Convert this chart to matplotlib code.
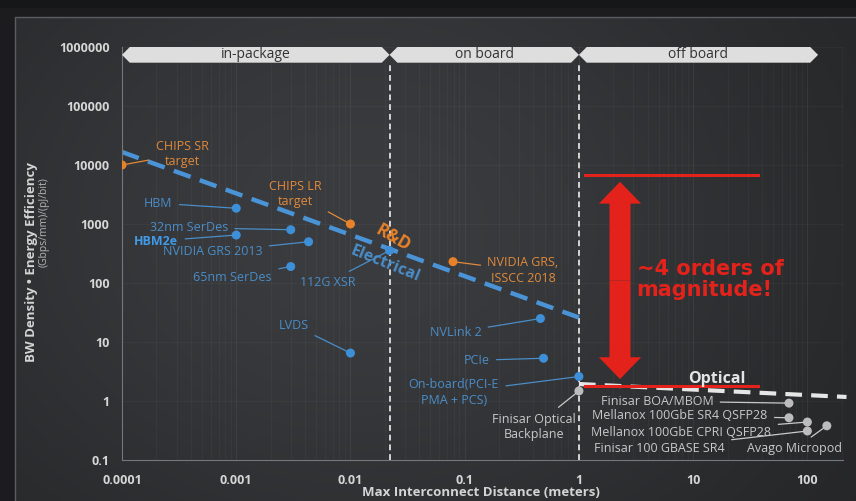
import numpy as np
import matplotlib
matplotlib.use("Agg")
import matplotlib.pyplot as plt
from matplotlib.patches import Polygon, FancyArrowPatch
from matplotlib.transforms import blended_transform_factory

plt.rcParams['font.family'] = ['Open Sans', 'DejaVu Sans']

# Electrical links (blue)
elec_names = ["HBM", "32nm SerDes", "HBM2e", "NVIDIA GRS 2013", "65nm SerDes",
              "112G XSR", "LVDS", "NVLink 2", "PCIe", "On-board(PCI-E\nPMA + PCS)"]
elec_x = [0.001, 0.003, 0.001, 0.0043, 0.003, 0.022, 0.01, 0.46, 0.49, 1.0]
elec_y = [1850, 800, 650, 500, 190, 355, 6.5, 25, 5.3, 2.6]

# Optical links (grey)
opt_names = ["Finisar Optical\nBackplane", "Finisar BOA/MBOM", "Mellanox 100GbE SR4 QSFP28",
             "Mellanox 100GbE CPRI QSFP28", "Finisar 100 GBASE SR4", "Avago Micropod"]
opt_x = [1.0, 69, 69, 100, 100, 148]
opt_y = [1.48, 0.92, 0.52, 0.44, 0.31, 0.38]

# Research targets (orange)
target_names = ["CHIPS SR\ntarget", "CHIPS LR\ntarget", "NVIDIA GRS,\nISSCC 2018"]
target_x = [0.0001, 0.01, 0.079]
target_y = [10000, 1000, 230]

# Trend lines
elec_trend_x = [0.0001, 1.0]
elec_trend_y = [16600, 26]
opt_trend_x = [1.0, 220]
opt_trend_y = [1.94, 1.17]

# Gap between electrical and optical
gap_x = [1.13, 37]
gap_top = 6800
gap_bottom = 1.79

# Distance regions
regions = ["in-package", "on board", "off board"]
region_edges = [0.0001, 0.022, 1.0, 124]

x_ticks = [0.0001, 0.001, 0.01, 0.1, 1, 10, 100]
x_ticklabels = ["0.0001", "0.001", "0.01", "0.1", "1", "10", "100"]
y_ticks = [0.1, 1, 10, 100, 1000, 10000, 100000, 1000000]
y_ticklabels = ["0.1", "1", "10", "100", "1000", "10000", "100000", "1000000"]

# label offsets in pixels (text centre relative to the dot)
elec_offsets = [(-78, 5), (-102, 2), (-80, -6), (-96, -10), (-58, -11),
                (-62, -32), (-57, 28), (-85, -14), (-67, -2), (-125, -16)]
opt_offsets = [(-45, -36), (-132, 2), (-109, 2), (-126, -10), (-148, -17), (-32, -23)]
target_offsets = [(60, 11), (-55, 30), (70, -9)]

BLUE = "#3d8fd8"
BLUE_TXT = "#4a8dc8"
ORANGE = "#e8822a"
GREY = "#c9c9c9"
RED = "#e3221b"

W, H = 856, 501
fig = plt.figure(figsize=(W / 100, H / 100), dpi=100)

# dark slide background with soft light in the middle
bg = fig.add_axes([0, 0, 1, 1], zorder=-1)
yy, xx = np.mgrid[0:H, 0:W]
u, v = xx / W, yy / H
val = 0.13 + 0.10 * np.exp(-(((u - 0.42) / 0.55) ** 2 + ((v - 0.45) / 0.75) ** 2))
val[(xx < 15) | (yy < 17)] = 0.11
val[yy < 8] = 0.09
img = np.dstack([val, val * 1.02, val * 1.07]).clip(0, 1)
bg.imshow(img, extent=[0, W, H, 0], aspect="auto")
bg.plot([15, 15, W], [H, 17, 17], color="#5a5d62", lw=1)
bg.set_xlim(0, W)
bg.set_ylim(H, 0)
bg.axis("off")

ax = fig.add_axes([122 / W, 41 / H, (843 - 122) / W, 413 / H])
ax.set_facecolor("none")
ax.set_xscale("log")
ax.set_yscale("log")
ax.set_xlim(0.0001, 205)
ax.set_ylim(0.1, 1000000)

ax.set_xticks(x_ticks)
ax.set_xticklabels(x_ticklabels)
ax.set_yticks(y_ticks)
ax.set_yticklabels(y_ticklabels)
ax.minorticks_off()
ax.tick_params(length=0, colors="#d6d6d6", labelsize=9)
ax.tick_params(axis="y", pad=9)
ax.tick_params(axis="x", pad=10)
for lab in ax.get_xticklabels() + ax.get_yticklabels():
    lab.set_fontweight("bold")
for s in ["top", "right"]:
    ax.spines[s].set_visible(False)
for s in ["left", "bottom"]:
    ax.spines[s].set_color("#74777b")
    ax.spines[s].set_linewidth(0.8)

# faint grid
for dec in range(-4, 3):
    for m in range(1, 10):
        ax.axvline(m * 10.0 ** dec, color="white", alpha=0.03 if m > 1 else 0.06, lw=0.8, zorder=0)
for yt in y_ticks[1:]:
    ax.axhline(yt, color="white", alpha=0.03, lw=0.8, zorder=0)

# region banners
trans = blended_transform_factory(ax.transData, ax.transAxes)
k = 1.17
top, bot, mid = 1.0, 0.962, 0.981
for name, x0, x1 in zip(regions, region_edges[:-1], region_edges[1:]):
    pts = [(x0, mid), (x0 * k, top), (x1 / k, top), (x1, mid), (x1 / k, bot), (x0 * k, bot)]
    ax.add_patch(Polygon(pts, closed=True, transform=trans, facecolor="#dedede",
                         edgecolor="none", clip_on=False, zorder=3))
    ax.text(np.sqrt(x0 * x1), mid, name, transform=trans, ha="center", va="center",
            fontsize=10, color="#333333", zorder=4)

for xb in region_edges[1:3]:
    ax.plot([xb, xb], [0, bot], transform=trans, color="#d5d5d5", lw=1.4,
            linestyle=(0, (3, 2)), zorder=1)

# trend lines
ax.plot(elec_trend_x, elec_trend_y, color="#4a93d6", lw=3.2, linestyle=(0, (4, 2.2)), zorder=2)
ax.plot(opt_trend_x, opt_trend_y, color="#e6e6e6", lw=3.0, linestyle=(0, (4, 2.2)),
        zorder=2, clip_on=False)

# gap marker
ax.plot(gap_x, [gap_top, gap_top], color=RED, lw=2.2, zorder=3)
ax.plot(gap_x, [gap_bottom, gap_bottom], color=RED, lw=2.2, zorder=3)
arrow_x = 2.29
arrow_top, arrow_bot = 5200, 2.35
arrow_mid = np.sqrt(arrow_top * arrow_bot)
style = "simple,head_length=0.75,head_width=1.45,tail_width=0.72"
for end in (arrow_top, arrow_bot):
    ax.add_patch(FancyArrowPatch((arrow_x, arrow_mid), (arrow_x, end), arrowstyle=style,
                                 mutation_scale=21, color=RED, lw=0, zorder=3,
                                 shrinkA=0, shrinkB=0))
ax.text(3.2, 115, "~4 orders of\nmagnitude!", color=RED, fontsize=15, fontweight="black",
        family="DejaVu Sans", ha="left", va="center", linespacing=1.05, zorder=4)

ax.text(16.2, 2.4, "Optical", color="#e4e4e4", fontsize=11.5, fontweight="bold",
        ha="center", va="center", zorder=4)
ax.text(0.0235, 590, "R&D", color=ORANGE, fontsize=12.5, fontweight="bold", rotation=-30,
        ha="center", va="center", zorder=4)
ax.text(0.02, 210, "Electrical", color=BLUE_TXT, fontsize=11.5, fontweight="bold",
        rotation=-22, ha="center", va="center", zorder=4)


def label_points(names, xs, ys, offsets, dot_color, txt_color):
    ax.scatter(xs, ys, s=42, color=dot_color, zorder=5, edgecolors="none")
    for name, x, y, off in zip(names, xs, ys, offsets):
        weight = "bold" if name == "HBM2e" else "normal"
        col = "#3f9be8" if name == "HBM2e" else txt_color
        ax.annotate(name, xy=(x, y), xytext=off, textcoords="offset pixels",
                    ha="center", va="center", fontsize=9, color=col, fontweight=weight,
                    linespacing=1.25, zorder=5,
                    arrowprops=dict(arrowstyle="-", color=txt_color, lw=0.9,
                                    shrinkA=3, shrinkB=3))


label_points(elec_names, elec_x, elec_y, elec_offsets, BLUE, BLUE_TXT)
label_points(opt_names, opt_x, opt_y, opt_offsets, "#bcbcbc", GREY)
label_points(target_names, target_x, target_y, target_offsets, ORANGE, "#e08a3c")

# axis titles
fig.text(32 / W, 1 - 262 / H, "BW Density \u2022 Energy Efficiency", rotation=90,
         ha="center", va="center", fontsize=9.5, fontweight="bold", color="#d4d4d4")
fig.text(44 / W, 1 - 222 / H, "(Gbps/mm)/(pJ/bit)", rotation=90,
         ha="center", va="center", fontsize=7.5, color="#b4b4b4")
fig.text(481 / W, 1 - 492 / H, "Max Interconnect Distance (meters)",
         ha="center", va="center", fontsize=9.5, fontweight="bold", color="#d4d4d4")

fig.savefig("out.png", dpi=100, facecolor="#1c1d21")
